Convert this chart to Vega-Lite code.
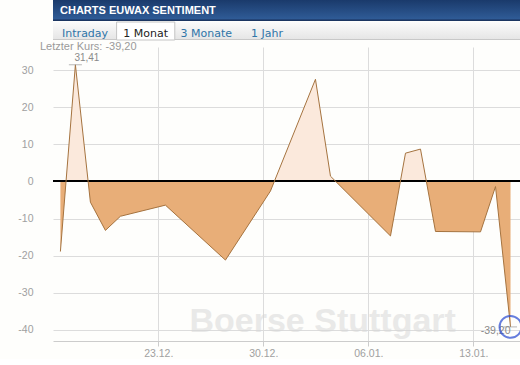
{
  "$schema": "https://vega.github.io/schema/vega-lite/v6.json",
  "padding": 0,
  "background": "#fefefc",
  "spacing": 0,
  "config": {
    "locale": {"number": {"decimal": ",", "thousands": ".", "grouping": [3], "currency": ["", " €"], "minus": "-"}},
    "view": {"stroke": null},
    "concat": {"spacing": 0}
  },
  "datasets": {
    "sentiment": [
      {"d": "2013-12-16T11:30", "v": -18.9},
      {"d": "2013-12-17T11:30", "v": 31.41},
      {"d": "2013-12-18T11:30", "v": -5.6},
      {"d": "2013-12-19T11:30", "v": -13.2},
      {"d": "2013-12-20T11:30", "v": -9.4},
      {"d": "2013-12-23T11:30", "v": -6.4},
      {"d": "2013-12-27T11:30", "v": -21.2},
      {"d": "2013-12-30T11:30", "v": -2.6},
      {"d": "2014-01-02T11:30", "v": 27.5},
      {"d": "2014-01-03T11:30", "v": 1.4},
      {"d": "2014-01-07T11:30", "v": -14.7},
      {"d": "2014-01-08T11:30", "v": 7.6},
      {"d": "2014-01-09T11:30", "v": 8.7},
      {"d": "2014-01-10T11:30", "v": -13.5},
      {"d": "2014-01-13T11:30", "v": -13.6},
      {"d": "2014-01-14T11:30", "v": -1.4},
      {"d": "2014-01-15T11:30", "v": -39.2}
    ],
    "watermark": [{"w": "Boerse Stuttgart", "d": "2013-12-25T02:00", "v": -40.6}]
  },
  "vconcat": [
    {
      "width": 520,
      "height": 21,
      "view": {"fill": {"gradient": "linear", "x1": 0, "y1": 0, "x2": 0, "y2": 1, "stops": [{"offset": 0, "color": "#1a3a6b"}, {"offset": 0.9, "color": "#2f5b96"}, {"offset": 0.95, "color": "#1b3561"}, {"offset": 1, "color": "#1b3561"}]}, "stroke": null},
      "title": {"text": "CHARTS EUWAX SENTIMENT", "anchor": "start", "frame": "group", "offset": -25, "dx": 7, "font": "Liberation Sans", "fontSize": 11, "fontWeight": "bold", "color": "#ffffff", "baseline": "alphabetic"},
      "data": {"values": [{"h": 1}]},
      "mark": {"type": "point", "opacity": 0},
      "encoding": {}
    },
    {
      "width": 520,
      "height": 18,
      "view": {"fill": {"gradient": "linear", "x1": 0, "y1": 0, "x2": 0, "y2": 1, "stops": [{"offset": 0, "color": "#fbfbfb"}, {"offset": 0.93, "color": "#e6e6e6"}, {"offset": 0.945, "color": "#c8c8c8"}, {"offset": 1, "color": "#c8c8c8"}]}, "stroke": null},
      "data": {"values": [{"tab": "Intraday", "sel": 0}, {"tab": "1 Monat", "sel": 1}, {"tab": "3 Monate", "sel": 0}, {"tab": "1 Jahr", "sel": 0}]},
      "encoding": {
        "x": {"field": "tab", "type": "nominal", "sort": null, "axis": null, "scale": {"domain": ["Intraday", "1 Monat", "3 Monate", "1 Jahr"], "range": [3, 243], "paddingInner": 0.04, "paddingOuter": 0}}
      },
      "layer": [
        {
          "transform": [{"filter": "datum.sel == 1"}],
          "mark": {"type": "bar", "color": "#ffffff", "stroke": "#c4c4c4", "strokeWidth": 1},
          "encoding": {}
        },
        {
          "mark": {"type": "text", "font": "DejaVu Sans", "fontSize": 11, "baseline": "middle", "dy": 2.5},
          "encoding": {
            "text": {"field": "tab"},
            "color": {"field": "sel", "type": "nominal", "scale": {"domain": [0, 1], "range": ["#2f75a8", "#222222"]}, "legend": null}
          }
        }
      ]
    },
    {
      "width": 467,
      "height": 294,
      "title": {"text": "Letzter Kurs: -39,20", "anchor": "start", "frame": "group", "offset": -5, "dx": -13, "font": "Liberation Sans", "fontSize": 11, "fontWeight": "normal", "color": "#9a9a9a"},
      "data": {"name": "sentiment"},
      "encoding": {
        "x": {
          "field": "d", "type": "temporal",
          "scale": {"domain": [{"year": 2013, "month": 12, "date": 15, "hours": 23, "minutes": 40}, {"year": 2014, "month": 1, "date": 16, "hours": 2, "minutes": 40}], "nice": false},
          "axis": {
            "title": null,
            "values": [{"year": 2013, "month": 12, "date": 23}, {"year": 2013, "month": 12, "date": 30}, {"year": 2014, "month": 1, "date": 6}, {"year": 2014, "month": 1, "date": 13}],
            "format": "%d.%m.", "formatType": "time",
            "labelFont": "Liberation Sans", "labelFontSize": 10.5, "labelColor": "#a0a0a0", "labelPadding": 2, "labelFlush": false,
            "domainColor": "#cccccc", "tickColor": "#cccccc", "tickSize": 5,
            "gridColor": "#dcdcdc"
          }
        },
        "y": {
          "field": "v", "type": "quantitative",
          "scale": {"domain": [-43, 36.2], "nice": false, "zero": false},
          "axis": {
            "title": null,
            "values": [-40, -30, -20, -10, 0, 10, 20, 30],
            "domain": false, "ticks": false, "labelPadding": 20, "minExtent": 53,
            "labelFont": "Liberation Sans", "labelFontSize": 10.5, "labelColor": "#a0a0a0",
            "gridColor": "#dcdcdc"
          }
        }
      },
      "layer": [
        {
          "mark": {"type": "area", "fill": {"gradient": "linear", "x1": 0, "y1": 0, "x2": 0, "y2": 1, "stops": [{"offset": 0, "color": "#fbe9dc"}, {"offset": 0.44484, "color": "#fbe9dc"}, {"offset": 0.44484, "color": "#e8ae78"}, {"offset": 1, "color": "#e8ae78"}]}},
          "encoding": {"y2": {"datum": 0}}
        },
        {
          "data": {"name": "watermark"},
          "mark": {"type": "text", "align": "left", "baseline": "alphabetic", "font": "Liberation Sans", "fontWeight": "bold", "fontSize": 34, "color": "#d8d8d8", "opacity": 0.55},
          "encoding": {
            "text": {"field": "w", "type": "nominal"}
          }
        },
        {
          "mark": {"type": "rule", "color": "#000000", "strokeWidth": 1.3},
          "encoding": {"x": {"value": 0}, "x2": {"value": "width"}, "y": {"datum": 0, "type": "quantitative"}}
        },
        {
          "mark": {"type": "line", "color": "#a5733f", "strokeWidth": 1},
          "encoding": {}
        },
        {
          "transform": [
            {"joinaggregate": [{"op": "max", "field": "v", "as": "vmax"}, {"op": "min", "field": "v", "as": "vmin"}]},
            {"filter": "datum.v == datum.vmax || datum.v == datum.vmin"}
          ],
          "mark": {"type": "point", "shape": "M-1,0L1,0", "filled": false, "stroke": "#9a9a9a", "strokeWidth": 1, "size": 170},
          "encoding": {}
        },
        {
          "transform": [
            {"joinaggregate": [{"op": "max", "field": "v", "as": "vmax"}]},
            {"filter": "datum.v == datum.vmax"}
          ],
          "mark": {"type": "text", "align": "left", "baseline": "alphabetic", "dx": -1, "dy": -3.5, "font": "Liberation Sans", "fontSize": 10, "color": "#8a8a8a"},
          "encoding": {"text": {"field": "v", "type": "quantitative", "format": ".2f"}}
        },
        {
          "transform": [
            {"joinaggregate": [{"op": "min", "field": "v", "as": "vmin"}]},
            {"filter": "datum.v == datum.vmin"}
          ],
          "mark": {"type": "text", "align": "right", "baseline": "alphabetic", "dx": 0, "dy": 7, "font": "Liberation Sans", "fontSize": 10.5, "color": "#8a8a8a"},
          "encoding": {"text": {"field": "v", "type": "quantitative", "format": ".2f"}}
        },
        {
          "transform": [
            {"joinaggregate": [{"op": "min", "field": "v", "as": "vmin"}]},
            {"filter": "datum.v == datum.vmin"}
          ],
          "mark": {"type": "point", "filled": false, "stroke": "#2547d0", "strokeWidth": 2, "size": 480, "shape": "circle"},
          "encoding": {}
        }
      ]
    }
  ]
}
